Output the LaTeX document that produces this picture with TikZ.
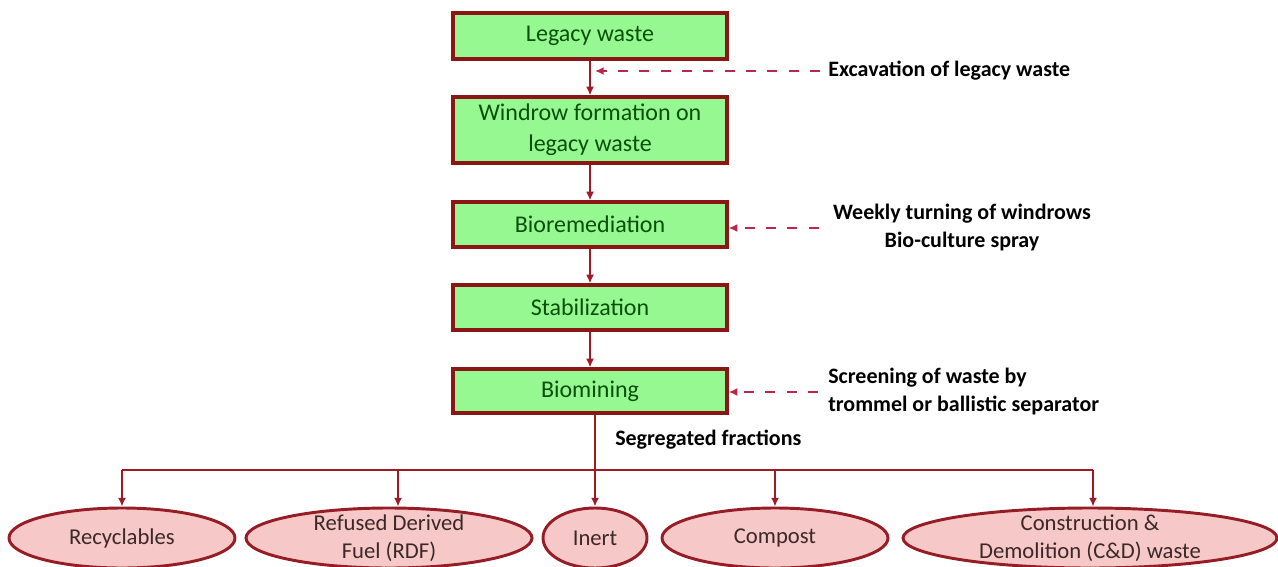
\documentclass[tikz,border=0pt]{standalone}
\usepackage{fontspec}
\setmainfont{Carlito}
\usetikzlibrary{shapes.geometric,arrows.meta,calc}
\definecolor{boxfill}{RGB}{150,248,145}
\definecolor{boxdraw}{RGB}{140,22,22}
\definecolor{boxtext}{RGB}{10,80,10}
\definecolor{ellfill}{RGB}{246,200,200}
\definecolor{elldraw}{RGB}{150,28,38}
\definecolor{elltext}{RGB}{60,40,40}
\definecolor{arrcol}{RGB}{160,25,35}
\definecolor{dashcol}{RGB}{185,40,70}
\tikzset{
  stepbox/.style={draw=boxdraw, fill=boxfill, line width=2.4pt, minimum width=205.5pt,
    inner sep=0pt, align=center, text=boxtext, font=\fontsize{18}{23}\selectfont},
  outell/.style={ellipse, draw=elldraw, fill=ellfill, line width=2.2pt, inner sep=0pt},
  elltxt/.style={align=center, text=elltext, inner sep=0pt, font=\fontsize{17}{21}\selectfont},
  lbl/.style={inner sep=0pt, text=black, font=\bfseries\fontsize{16.5}{21}\selectfont},
  arr/.style={draw=arrcol, line width=1.9pt, -{Latex[length=6.5pt,width=6pt]}},
  bus/.style={draw=arrcol, line width=1.9pt},
  dasharr/.style={draw=dashcol, line width=2.1pt, dash pattern=on 7.5pt off 8.5pt,
    -{Latex[length=6.5pt,width=6pt]}},
}
\begin{document}
\begin{tikzpicture}[x=0.75pt,y=-0.75pt]
\useasboundingbox (0,0) rectangle (1278,567);
\clip (0,0) rectangle (1278,567);
% main boxes
\node[stepbox, minimum height=34.5pt] (b1) at (590,36) {Legacy waste};
\node[stepbox, minimum height=49.5pt] (b2) at (590,130) {Windrow formation on\\legacy waste};
\node[stepbox, minimum height=33.75pt] (b3) at (590,224.5) {Bioremediation};
\node[stepbox, minimum height=33.75pt] (b4) at (590,307.5) {Stabilization};
\node[stepbox, minimum height=33pt] (b5) at (590,391) {Biomining};
% labels
\node[lbl, anchor=west] (l1) at (828,71) {Excavation of legacy waste};
\node[lbl, align=center] (l2) at (962,228) {Weekly turning of windrows\\Bio-culture spray};
\node[lbl, align=left, anchor=west] (l3) at (828,392) {Screening of waste by\\trommel or ballistic separator};
\node[lbl, anchor=west] (l4) at (615,440) {Segregated fractions};
% ellipses
\node[outell, minimum width=169.5pt, minimum height=45pt] (rec) at (122,538) {};
\node[elltxt] (rect) at (rec) {Recyclables};
\node[outell, minimum width=214.5pt, minimum height=45pt] (rdf) at (389,538) {};
\node[elltxt] (rdft) at (rdf) {Refused Derived\\Fuel (RDF)};
\node[outell, minimum width=78pt, minimum height=45pt] (inert) at (595,538) {};
\node[elltxt] (inertt) at (inert) {Inert};
\node[outell, minimum width=169.5pt, minimum height=45pt] (comp) at (775,538) {};
\node[elltxt] (compt) at (comp) {Compost};
\node[outell, minimum width=280.5pt, minimum height=45pt] (cd) at (1090,538) {};
\node[elltxt] (cdt) at (cd) {Construction \&\\Demolition (C\&D) waste};
% main flow
\draw[arr] (b1.south) -- (b2.north);
\draw[arr] (b2.south) -- (b3.north);
\draw[arr] (b3.south) -- (b4.north);
\draw[arr] (b4.south) -- (b5.north);
\coordinate (busy) at (0,470);
\coordinate (rdftop) at ($(rdf.north)+(9,0)$);
\coordinate (cdtop) at ($(cd.north)+(3,0)$);
\draw[arr] ($(b5.south)+(5,0)$) -- (inert.north);
\draw[bus] (rec.north |- busy) -- (cdtop |- busy);
\draw[arr] (rec.north |- busy) -- (rec.north);
\draw[arr] (rdftop |- busy) -- (rdftop);
\draw[arr] (comp.north |- busy) -- (comp.north);
\draw[arr] (cdtop |- busy) -- (cdtop);
% dashed inputs
\draw[dasharr] ($(l1.west)+(-8,0)$) -- ($(l1.west -| b1.south)+(5,0)$);
\draw[dasharr] ($(l2.west)+(-14,0)$) -- (b3.east |- l2.west);
\draw[dasharr] ($(l3.west)+(-10,0)$) -- (b5.east |- l3.west);
\end{tikzpicture}
\end{document}
